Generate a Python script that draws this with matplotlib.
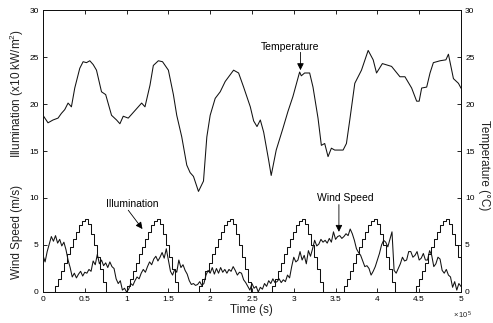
import matplotlib
matplotlib.use('Agg')
import matplotlib.pyplot as plt
import numpy as np

plt.rcParams['font.family'] = ['Liberation Sans', 'DejaVu Sans']
plt.rcParams['mathtext.fontset'] = 'custom'
plt.rcParams['mathtext.rm'] = 'Liberation Sans'
plt.rcParams['mathtext.it'] = 'Liberation Sans'

# ---------------- data ----------------
# Temperature (deg C) sampled at times given in units of 1e5 s
temp_time_1e5 = [0.00, 0.06, 0.12, 0.18, 0.22, 0.26, 0.30, 0.34, 0.38, 0.44,
                 0.48, 0.52, 0.56, 0.60, 0.64, 0.70, 0.75, 0.82, 0.88, 0.92,
                 0.96, 1.02, 1.08, 1.12, 1.18, 1.22, 1.28, 1.32, 1.38, 1.43,
                 1.50, 1.56, 1.60, 1.66, 1.72, 1.76, 1.80, 1.86, 1.92, 1.96,
                 2.00, 2.06, 2.12, 2.18, 2.28, 2.34, 2.40, 2.48, 2.52, 2.56,
                 2.60, 2.64, 2.70, 2.73, 2.79, 2.87, 2.93, 2.99, 3.07, 3.09,
                 3.13, 3.19, 3.23, 3.29, 3.33, 3.37, 3.41, 3.45, 3.49, 3.59,
                 3.63, 3.67, 3.73, 3.81, 3.89, 3.95, 3.99, 4.06, 4.17, 4.27,
                 4.33, 4.41, 4.47, 4.50, 4.53, 4.59, 4.63, 4.67, 4.75, 4.82,
                 4.85, 4.91, 4.97, 5.00]
temperature = [18.8, 18.0, 18.3, 18.5, 19.0, 19.4, 20.1, 19.7, 21.7, 23.8,
               24.5, 24.4, 24.6, 24.2, 23.6, 21.3, 21.0, 18.8, 18.3, 17.9,
               18.7, 18.5, 19.1, 19.5, 20.1, 19.7, 22.0, 24.1, 24.6, 24.5,
               23.6, 21.0, 18.8, 16.5, 13.5, 12.7, 12.3, 10.7, 11.8, 16.5,
               18.8, 20.6, 21.3, 22.4, 23.6, 23.3, 21.8, 19.7, 18.2, 17.6,
               18.3, 17.0, 14.0, 12.4, 15.1, 17.4, 19.2, 20.8, 23.4, 23.0,
               23.3, 23.3, 21.8, 18.5, 15.6, 15.8, 14.4, 15.3, 15.1, 15.1,
               15.8, 18.3, 22.2, 23.6, 25.7, 24.7, 23.3, 24.3, 24.0, 22.9,
               22.9, 21.7, 20.3, 20.3, 21.7, 21.8, 23.3, 24.4, 24.6, 24.7,
               25.3, 22.7, 22.2, 21.7]

# Illumination (x10 kW/m^2): hourly profile of one day, repeated each day
illum_day = [0, 0, 0, 0, 0.6, 1.4, 2.2, 3.1, 4.0, 4.8, 5.6, 6.4,
             7.1, 7.6, 7.8, 7.2, 6.2, 5.0, 3.7, 2.4, 1.1, 0, 0, 0]
n_days = 6
illumination = illum_day * n_days
hour_seconds = 3600

# Wind speed (m/s), sampled every 2500 s
wind_dt = 2500
wind_speed = [
    3.9, 3.2, 4.3, 5.1,  5.9, 5.4, 6.0, 5.2,  5.6, 4.9, 5.3, 4.5,
    3.4, 2.6, 1.6, 2.0,  1.5, 1.9, 2.2, 1.7,  2.1, 2.0, 2.4, 2.2,
    3.3, 2.9, 4.0, 3.0,  3.4, 2.8, 3.1, 2.6,  3.2, 2.7, 2.5, 1.4,
    0.9, 1.2, 0.2, 0.4,  0.0, 0.3, 0.9, 0.7,  1.2, 1.6, 1.4, 2.0,
    2.4, 2.1, 2.7, 3.2,  2.9, 3.5, 3.8, 3.3,  3.7, 4.2, 3.6, 4.6,
    3.4, 2.2, 1.8, 2.4,  2.1, 3.4, 2.6, 2.9,  2.3, 1.9, 1.2, 0.8,
    0.9, 0.7, 0.8, 1.1,  0.7, 0.9, 1.8, 2.3,  2.0, 2.6, 1.9, 2.5,
    2.0, 2.6, 2.1, 2.4,  2.0, 2.4, 2.2, 2.7,  2.3, 1.8, 2.1, 2.0,
    1.3, 1.0, 0.6, 0.2,  0.9, 0.4, 0.6, 0.0,  0.5, 0.3, 0.9, 0.6,
    1.2, 0.9, 1.4, 1.0,  1.1, 1.4, 1.0, 1.3,  1.1, 1.8, 1.5, 2.7,
    3.7, 3.2, 3.4, 4.3,  3.4, 3.9, 3.0, 4.4,  3.8, 4.6, 5.5, 4.9,
    5.1, 5.6, 5.3, 5.5,  5.2, 5.7, 5.3, 6.4,  5.6, 5.9, 6.0, 5.7,
    5.9, 6.2, 6.0, 6.7,  6.2, 5.5, 4.6, 4.2,  3.9, 3.3, 2.7, 2.8,
    2.5, 1.8, 2.2, 2.7,  3.4, 4.1, 5.0, 5.5,  5.3, 4.8, 5.6, 6.4,
    2.3, 2.0, 2.5, 3.0,  3.7, 3.3, 3.4, 4.3,  4.3, 3.7, 3.9, 4.3,
    3.4, 3.6, 4.1, 3.4,  3.4, 4.4, 3.9, 2.7,  3.0, 3.7, 3.5, 2.3,
    2.0, 2.4, 1.8, 1.6,  0.5, 1.1, 0.2, 0.9,  0.6]

x_ticks_1e5 = [0, 0.5, 1, 1.5, 2, 2.5, 3, 3.5, 4, 4.5, 5]
x_tick_labels = ['0', '0.5', '1', '1.5', '2', '2.5', '3', '3.5', '4', '4.5', '5']
y_ticks = [0, 5, 10, 15, 20, 25, 30]

# ---------------- figure ----------------
fig = plt.figure(figsize=(4.93, 3.23), dpi=100)
ax = fig.add_axes([0.0872, 0.096, 0.935 - 0.0872, 0.969 - 0.096])
ax2 = ax.twinx()

lc = '#111111'
lw = 0.75

t_temp = np.array(temp_time_1e5) * 1e5
ax2.plot(t_temp, temperature, color=lc, lw=lw)

t_ill = np.arange(len(illumination)) * hour_seconds
ax.plot(t_ill, illumination, color=lc, lw=lw, drawstyle='steps-post')

t_wind = np.arange(len(wind_speed)) * wind_dt
ax.plot(t_wind, wind_speed, color=lc, lw=lw)

for a in (ax, ax2):
    a.set_xlim(0, 5e5)
    a.set_ylim(0, 30)
    a.set_yticks(y_ticks)
    a.set_yticklabels([str(v) for v in y_ticks], fontsize=6)
    for s in a.spines.values():
        s.set_linewidth(0.7)
        s.set_color('#111111')

ax.set_xticks(np.array(x_ticks_1e5) * 1e5)
ax.set_xticklabels(x_tick_labels, fontsize=6)
ax.tick_params(axis='both', direction='in', length=3, width=0.6,
               top=True, right=False, pad=3)
ax2.tick_params(axis='y', direction='in', length=3, width=0.6, pad=3)

# axis labels
fig.text(0.034, 0.712, 'Illumination (x10 kW/m$^2$)', rotation=90,
         ha='center', va='center', fontsize=8.5, color='#222222')
fig.text(0.034, 0.282, 'Wind Speed (m/s)', rotation=90,
         ha='center', va='center', fontsize=8.5, color='#222222')
fig.text(0.981, 0.489, 'Temperature (\u00b0C)', rotation=-90,
         ha='center', va='center', fontsize=8.5, color='#222222')
fig.text(0.511, 0.04, 'Time (s)', ha='center', va='center',
         fontsize=8.5, color='#222222')
fig.text(0.938, 0.025, r'$\times\,10^{5}$', ha='center', va='center',
         fontsize=5.5, color='#222222')

arrow = dict(arrowstyle='-|>', color='black', lw=0.6, mutation_scale=10,
             shrinkA=0, shrinkB=0)
# Temperature
ax2.text(2.95e5, 26.1, 'Temperature', ha='center', va='center', fontsize=7.5)
ax2.annotate('', xy=(3.08e5, 23.6), xytext=(3.08e5, 25.5), arrowprops=arrow)
# Wind speed
ax.text(3.62e5, 10.0, 'Wind Speed', ha='center', va='center', fontsize=7.5)
ax.annotate('', xy=(3.54e5, 6.4), xytext=(3.54e5, 9.3), arrowprops=arrow)
# Illumination
ax.text(1.07e5, 9.4, 'Illumination', ha='center', va='center', fontsize=7.5)
ax.annotate('', xy=(1.19e5, 6.7), xytext=(1.02e5, 8.7), arrowprops=arrow)

fig.savefig('out.png', dpi=100)
